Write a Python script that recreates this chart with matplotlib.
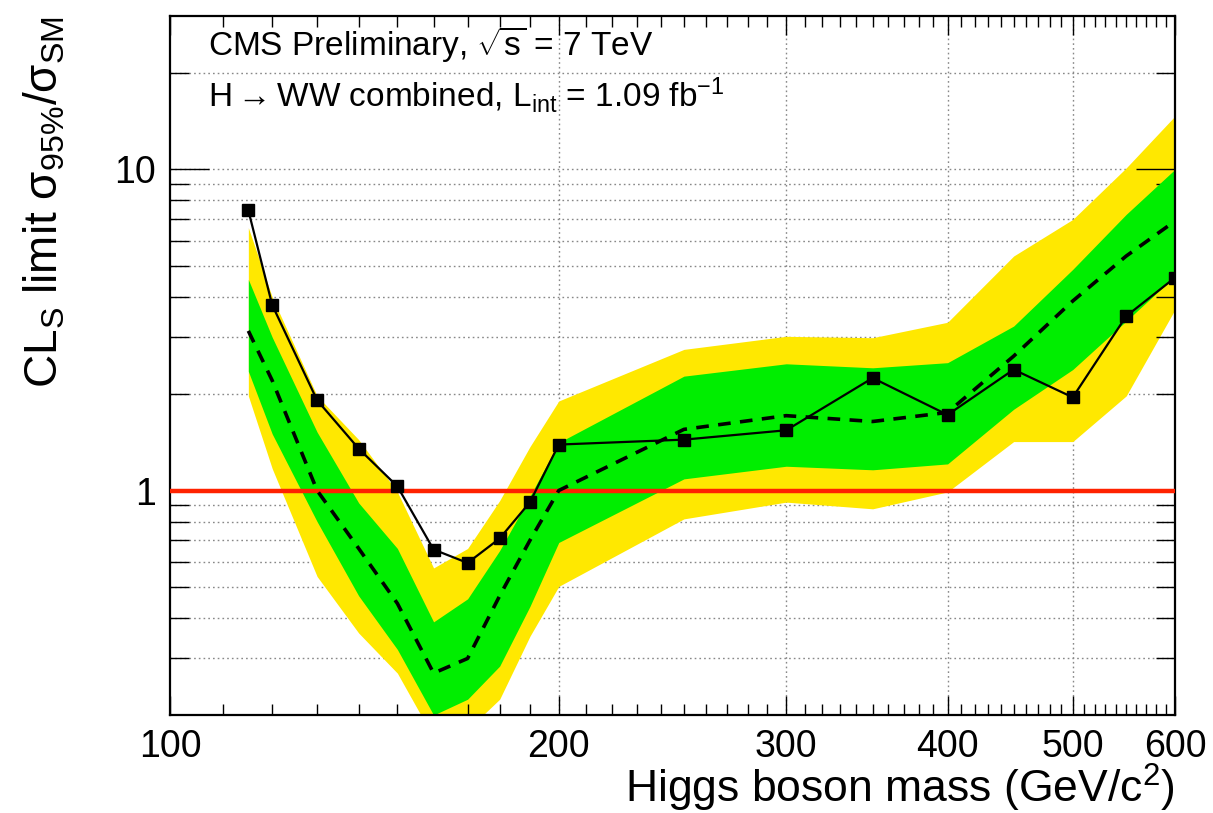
import numpy as np
import matplotlib
matplotlib.use("Agg")
import matplotlib.pyplot as plt
from matplotlib.ticker import FixedLocator, NullFormatter, FixedFormatter

plt.rcParams['font.family'] = ['Liberation Sans', 'DejaVu Sans']
plt.rcParams['mathtext.fontset'] = 'custom'
plt.rcParams['mathtext.rm'] = 'Liberation Sans'
plt.rcParams['mathtext.it'] = 'Liberation Sans:italic'
plt.rcParams['mathtext.bf'] = 'Liberation Sans:bold'

# Data
mass = [115, 120, 130, 140, 150, 160, 170, 180, 190, 200, 250, 300, 350, 400, 450, 500, 550, 600]
observed = [7.45, 3.78, 1.91, 1.35, 1.03, 0.655, 0.595, 0.709, 0.92, 1.39, 1.44, 1.54, 2.24, 1.72, 2.38, 1.95, 3.49, 4.60]
expected = [3.14, 2.20, 1.00, 0.66, 0.445, 0.27, 0.30, 0.47, 0.70, 1.00, 1.55, 1.71, 1.64, 1.75, 2.62, 3.89, 5.37, 6.90]
exp_p1 = [4.54, 3.00, 1.52, 0.915, 0.66, 0.39, 0.46, 0.65, 0.96, 1.41, 2.27, 2.48, 2.41, 2.50, 3.25, 4.88, 7.24, 10.0]
exp_m1 = [2.35, 1.50, 0.80, 0.47, 0.32, 0.20, 0.224, 0.284, 0.436, 0.689, 1.087, 1.19, 1.16, 1.21, 1.79, 2.38, 3.37, 4.65]
exp_p2 = [6.58, 4.00, 1.97, 1.44, 0.99, 0.574, 0.66, 0.93, 1.37, 1.90, 2.75, 3.02, 2.99, 3.34, 5.37, 6.98, 10.1, 14.65]
exp_m2 = [1.97, 1.17, 0.54, 0.36, 0.27, 0.17, 0.18, 0.224, 0.352, 0.503, 0.816, 0.92, 0.877, 0.99, 1.42, 1.42, 1.97, 3.66]
sm_ref = 1.0

x_major = [100, 200, 300, 400, 500, 600]
x_grid = [200, 300, 400, 500]
y_major = [1, 10]
y_major_labels = ["1", "10"]

fig = plt.figure(figsize=(12.13, 8.13), dpi=100)
ax = fig.add_axes([0.1401, 0.1205, 0.8286, 0.8598])
ax.set_xscale('log')
ax.set_yscale('log')
ax.set_xlim(100, 600)
ax.set_ylim(0.2, 30)

# grid
y_minor = [v * d for d in (0.1, 1, 10) for v in range(2, 10) if 0.2 < v * d < 30]
for yv in y_minor + [10]:
    ax.axhline(yv, color='#888888', lw=1.0, ls=(0, (1.2, 2.2)), zorder=0)
for xv in x_grid:
    ax.axvline(xv, color='#888888', lw=1.0, ls=(0, (1.2, 2.2)), zorder=0)

ax.fill_between(mass, exp_m2, exp_p2, color='#ffe800', lw=0, zorder=1)
ax.fill_between(mass, exp_m1, exp_p1, color='#00ee00', lw=0, zorder=2)
ax.axhline(sm_ref, color='#ff2200', lw=3.2, zorder=3)
ax.plot(mass, expected, color='black', lw=2.6, ls=(0, (3.5, 2.6)), zorder=4)
ax.plot(mass, observed, color='black', lw=1.6, marker='s', ms=8, zorder=5)

# ticks
ax.xaxis.set_major_locator(FixedLocator(x_major))
ax.xaxis.set_major_formatter(FixedFormatter([str(v) for v in x_major]))
x_minor = [v for v in range(110, 600, 10) if v not in x_major]
ax.xaxis.set_minor_locator(FixedLocator(x_minor))
ax.xaxis.set_minor_formatter(NullFormatter())
ax.yaxis.set_major_locator(FixedLocator(y_major))
ax.yaxis.set_major_formatter(FixedFormatter(y_major_labels))
ax.yaxis.set_minor_locator(FixedLocator(y_minor))
ax.yaxis.set_minor_formatter(NullFormatter())

ax.tick_params(which='both', direction='in', top=True, right=True, width=1.0, colors='black')
ax.tick_params(axis='x', which='major', length=14, labelsize=27, pad=10)
ax.tick_params(axis='x', which='minor', length=8)
ax.tick_params(axis='y', which='major', length=28, labelsize=27, pad=10)
ax.tick_params(axis='y', which='minor', length=14)
for s in ax.spines.values():
    s.set_linewidth(1.6)

ax.set_xlabel(r'Higgs boson mass (GeV/c$^{2}$)', fontsize=32, loc='right', labelpad=-2)
ax.set_ylabel(r'CL$_{\mathrm{S}}$ limit σ$_{\mathrm{95\%}}$/σ$_{\mathrm{SM}}$', fontsize=33, loc='top', labelpad=34)

fig.text(208 / 1213, 1 - 55 / 813, r'CMS Preliminary, $\sqrt{\mathrm{s}}$ = 7 TeV', fontsize=24, ha='left', va='baseline')
fig.text(208 / 1213, 1 - 107 / 813, r'H$\rightarrow$WW combined, L$_{\mathrm{int}}$ = 1.09 fb$^{\mathrm{-1}}$', fontsize=24, ha='left', va='baseline')

fig.savefig('out.png', dpi=100)
